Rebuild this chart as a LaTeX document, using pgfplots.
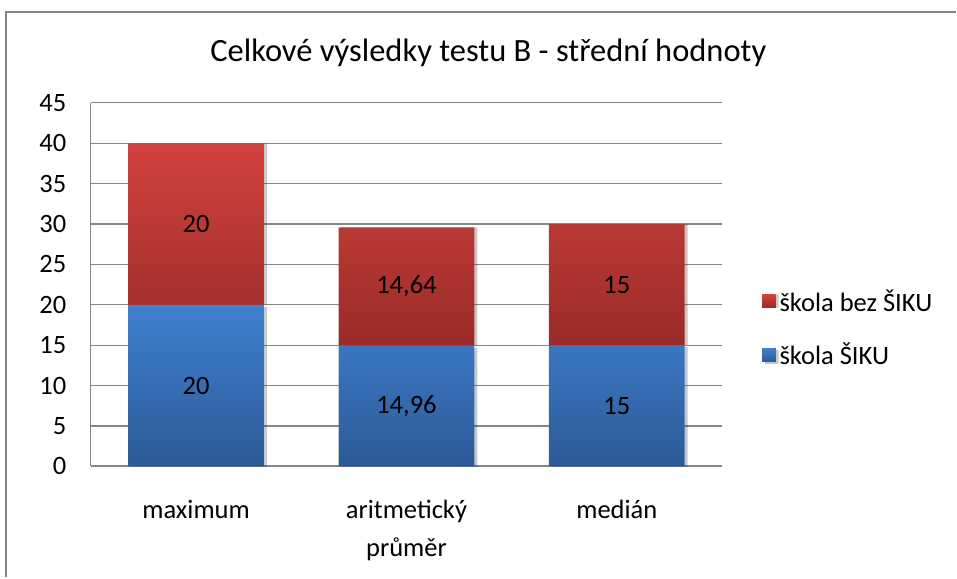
\documentclass[border=0pt]{standalone}
\usepackage{fontspec}
\setmainfont{Carlito}
\usepackage{pgfplots}
\pgfplotsset{compat=1.18}
\usetikzlibrary{shadows}
\definecolor{gridgray}{HTML}{868686}
\definecolor{redtop}{HTML}{D2423E}
\definecolor{redbot}{HTML}{992B28}
\definecolor{bluetop}{HTML}{3F80CF}
\definecolor{bluebot}{HTML}{2C5A96}
\newcommand{\lbl}{\fontsize{19.9pt}{28.5pt}\selectfont}
\begin{document}
\begin{tikzpicture}
% canvas 957x578 px, 1 px = 0.75 pt
\path (0,0) rectangle (717.75pt,433.5pt);
\draw[gridgray, line width=2pt] (4.5pt,0) -- (4.5pt,424.5pt) -- (717.75pt,424.5pt);
\node[font=\fontsize{24.4pt}{28pt}\selectfont] at (366.75pt,393.5pt)
  {Celkové výsledky testu B - střední hodnoty};
\begin{axis}[
  at={(68.25pt,83.25pt)}, anchor=south west,
  scale only axis, width=474pt, height=273pt,
  ybar stacked, bar width=102pt,
  xmin=-0.5, xmax=2.5, ymin=0, ymax=45,
  xtick={0,1,2},
  xticklabels={maximum, aritmetický\\průměr, medián},
  ytick distance=5,
  major tick length=0pt,
  ymajorgrids, grid style={gridgray, line width=0.9pt},
  axis x line*=bottom, axis y line*=left,
  y axis line style={-, gridgray, line width=0.9pt},
  x axis line style={-, gridgray, line width=1.6pt},
  /pgf/number format/assume math mode=true,
  yticklabel style={font=\lbl, xshift=-15pt},
  xticklabel style={font=\lbl, align=center, yshift=-22pt},
  visualization depends on={rawy \as \rawy},
  nodes near coords={\pgfmathprintnumber[use comma]{\rawy}},
  nodes near coords style={font=\lbl, black, anchor=center},
  reverse legend, legend cell align=left,
  legend style={at={(1.0633,0.3805)}, anchor=west, draw=none, fill=none,
    font=\lbl, row sep=16.5pt, inner sep=0pt, nodes={inner sep=3pt}},
]
\addplot[draw=none, top color=bluetop, bottom color=bluebot,
  drop shadow={shadow xshift=2.2pt, shadow yshift=-1.5pt, opacity=0.15,
    top color=black, bottom color=black},
  legend image code/.code={\fill[top color=bluetop, bottom color=bluebot] (0pt,-5pt) rectangle (10pt,5pt);}]
  coordinates {(0,20) (1,14.96) (2,15)};
\addlegendentry{škola ŠIKU}
\addplot[draw=none, top color=redtop, bottom color=redbot,
  drop shadow={shadow xshift=2.2pt, shadow yshift=0pt, opacity=0.15,
    top color=black, bottom color=black},
  legend image code/.code={\fill[top color=redtop, bottom color=redbot] (0pt,-5pt) rectangle (10pt,5pt);}]
  coordinates {(0,20) (1,14.64) (2,15)};
\addlegendentry{škola bez ŠIKU}
\end{axis}
\end{tikzpicture}
\end{document}
